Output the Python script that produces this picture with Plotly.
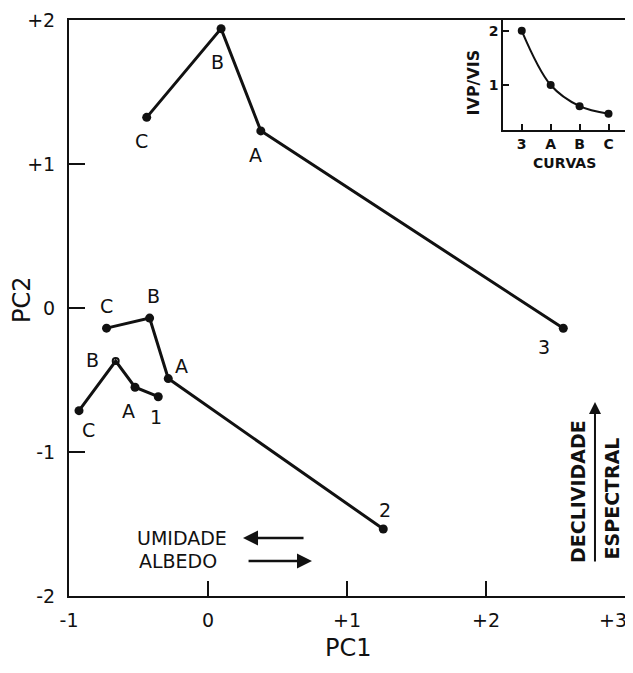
import plotly.graph_objects as go

# ---------------- data ----------------
point_names = ["C", "B", "A"]
curve_ends = ["1", "2", "3"]

pc1_curve1 = [-0.928, -0.664, -0.525, -0.358]
pc2_curve1 = [-0.713, -0.368, -0.550, -0.616]
pc1_curve2 = [-0.730, -0.420, -0.286, 1.261]
pc2_curve2 = [-0.140, -0.070, -0.490, -1.535]
pc1_curve3 = [-0.441, 0.094, 0.380, 2.556]
pc2_curve3 = [1.324, 1.940, 1.230, -0.141]

inset_categories = ["3", "A", "B", "C"]
inset_ivp_vis = [2.0, 1.0, 0.61, 0.47]

x_tick_vals = [-1, 0, 1, 2, 3]
x_tick_text = ["-1", "0", "+1", "+2", "+3"]
y_tick_vals = [-2, -1, 0, 1, 2]
y_tick_text = ["-2", "-1", "0", "+1", "+2"]
inset_y_ticks = [1, 2]
inset_y_text = ["1", "2"]

# ---------------- style ----------------
INK = "#111111"
FONT = "DejaVu Sans"

# label pixel offsets (xshift, yshift) for C, B, A, end
label_offsets = {
    "1": [(9, -19), (-23, 1), (-7, -24), (-2, -20)],
    "2": [(0, 22), (4, 22), (13, 13), (2, 19)],
    "3": [(-5, -24), (-4, -33), (-5, -24), (-19, -19)],
}
curves = {
    "1": (pc1_curve1, pc2_curve1),
    "2": (pc1_curve2, pc2_curve2),
    "3": (pc1_curve3, pc2_curve3),
}

fig = go.Figure()

annotations = []
for end in curve_ends:
    xs, ys = curves[end]
    names = point_names + [end]
    symbols = ["circle"] * 4
    sizes = [9] * 4
    if end == "1":
        symbols[1] = "circle-open"
        sizes[1] = 6
    fig.add_trace(go.Scatter(
        x=xs, y=ys, mode="lines+markers",
        line=dict(color=INK, width=3),
        marker=dict(color=INK, size=sizes, symbol=symbols, opacity=1,
                    line=dict(color=INK, width=[0, 2 if end == "1" else 0, 0, 0])),
        showlegend=False, hoverinfo="skip",
        xaxis="x", yaxis="y",
    ))
    for (px, py, nm, (dx, dy)) in zip(xs, ys, names, label_offsets[end]):
        annotations.append(dict(
            x=px, y=py, xref="x", yref="y", text=nm, showarrow=False,
            xanchor="center", yanchor="middle",
            xshift=dx, yshift=dy, font=dict(family=FONT, size=19, color=INK),
        ))

# inset
fig.add_trace(go.Scatter(
    x=inset_categories, y=inset_ivp_vis, mode="lines+markers",
    line=dict(color=INK, width=2, shape="spline"),
    marker=dict(color=INK, size=8),
    showlegend=False, hoverinfo="skip",
    xaxis="x2", yaxis="y2",
))

# last x tick label sits inside the right edge, as in the original
shown_x_text = x_tick_text[:-1] + [""]
annotations.append(dict(
    x=x_tick_vals[-1], y=0, xref="x", yref="paper", text=x_tick_text[-1],
    showarrow=False, xanchor="center", yanchor="middle", xshift=-12, yshift=-24,
    font=dict(family=FONT, size=19, color=INK),
))

# direction annotations and titles
annotations += [
    dict(x=-0.525, y=-1.597, xref="x", yref="y", text="UMIDADE", showarrow=False,
         xanchor="left", yanchor="middle", font=dict(family=FONT, size=19, color=INK)),
    dict(x=-0.511, y=-1.757, xref="x", yref="y", text="ALBEDO", showarrow=False,
         xanchor="left", yanchor="middle", font=dict(family=FONT, size=19, color=INK)),
    dict(x=0.252, y=-1.597, ax=0.698, ay=-1.597, xref="x", yref="y",
         axref="x", ayref="y", text="", showarrow=True, arrowhead=2,
         arrowsize=1.2, arrowwidth=2.5, arrowcolor=INK),
    dict(x=0.748, y=-1.757, ax=0.281, ay=-1.757, xref="x", yref="y",
         axref="x", ayref="y", text="", showarrow=True, arrowhead=2,
         arrowsize=1.2, arrowwidth=2.5, arrowcolor=INK),
    dict(x=2.784, y=-0.653, ax=2.784, ay=-1.771, xref="x", yref="y",
         axref="x", ayref="y", text="", showarrow=True, arrowhead=2,
         arrowsize=1.2, arrowwidth=2, arrowcolor=INK),
    dict(x=2.662, y=-1.278, xref="x", yref="y", text="<b>DECLIVIDADE</b>",
         showarrow=False, textangle=-90, xanchor="center", yanchor="middle",
         font=dict(family=FONT, size=19, color=INK)),
    dict(x=2.906, y=-1.323, xref="x", yref="y", text="<b>ESPECTRAL</b>",
         showarrow=False, textangle=-90, xanchor="center", yanchor="middle",
         font=dict(family=FONT, size=19, color=INK)),
    # main axis titles
    dict(x=0.502, y=-0.090, xref="paper", yref="paper", text="PC1",
         showarrow=False, xanchor="center", yanchor="middle",
         font=dict(family=FONT, size=24, color=INK)),
    dict(x=-0.0845, y=0.514, xref="paper", yref="paper", text="PC2",
         showarrow=False, textangle=-90, xanchor="center", yanchor="middle",
         font=dict(family=FONT, size=24, color=INK)),
    # inset titles
    dict(x=0.5, y=-0.30, xref="x2 domain", yref="y2 domain", text="<b>CURVAS</b>",
         showarrow=False, xanchor="center", yanchor="middle",
         font=dict(family=FONT, size=14, color=INK)),
    dict(x=-0.245, y=0.436, xref="x2 domain", yref="y2 domain", text="<b>IVP/VIS</b>",
         showarrow=False, textangle=-90, xanchor="center", yanchor="middle",
         font=dict(family=FONT, size=16, color=INK)),
]

# the page body adds an 8px offset; size the figure so the plot lands in place
fig.update_layout(
    width=625, height=665, autosize=False,
    margin=dict(l=61, r=8, t=12, b=77),
    paper_bgcolor="white", plot_bgcolor="white",
    font=dict(family=FONT, color=INK),
    annotations=annotations,
    xaxis=dict(
        range=[-1, 3], tickvals=x_tick_vals, ticktext=shown_x_text,
        ticks="inside", ticklen=15, tickwidth=2, tickcolor=INK,
        showline=True, linecolor=INK, linewidth=2, mirror=True,
        showgrid=False, zeroline=False, ticklabelstandoff=6,
        automargin=False,
        tickfont=dict(family=FONT, size=19, color=INK),
    ),
    yaxis=dict(
        range=[-2, 2], tickvals=y_tick_vals, ticktext=y_tick_text,
        ticks="inside", ticklen=16, tickwidth=2, tickcolor=INK,
        showline=True, linecolor=INK, linewidth=2, mirror=True,
        showgrid=False, zeroline=False, ticklabelstandoff=8,
        ticklabeloverflow="allow", automargin=False,
        tickfont=dict(family=FONT, size=19, color=INK),
    ),
    xaxis2=dict(
        domain=[0.781, 1.0], anchor="y2", type="category",
        range=[-0.64, 3.57],
        ticks="inside", ticklen=6, tickwidth=2, tickcolor=INK,
        showline=True, linecolor=INK, linewidth=2, mirror=True,
        showgrid=False, zeroline=False, automargin=False,
        tickfont=dict(family=FONT, size=14, color=INK, weight="bold"),
    ),
    yaxis2=dict(
        domain=[0.809, 1.0], anchor="x2",
        range=[0.17, 2.2], tickvals=inset_y_ticks, ticktext=inset_y_text,
        ticks="inside", ticklen=6, tickwidth=2, tickcolor=INK,
        showline=True, linecolor=INK, linewidth=2, mirror=True,
        showgrid=False, zeroline=False, automargin=False,
        tickfont=dict(family=FONT, size=14, color=INK, weight="bold"),
    ),
)

fig.write_html("out.html")
